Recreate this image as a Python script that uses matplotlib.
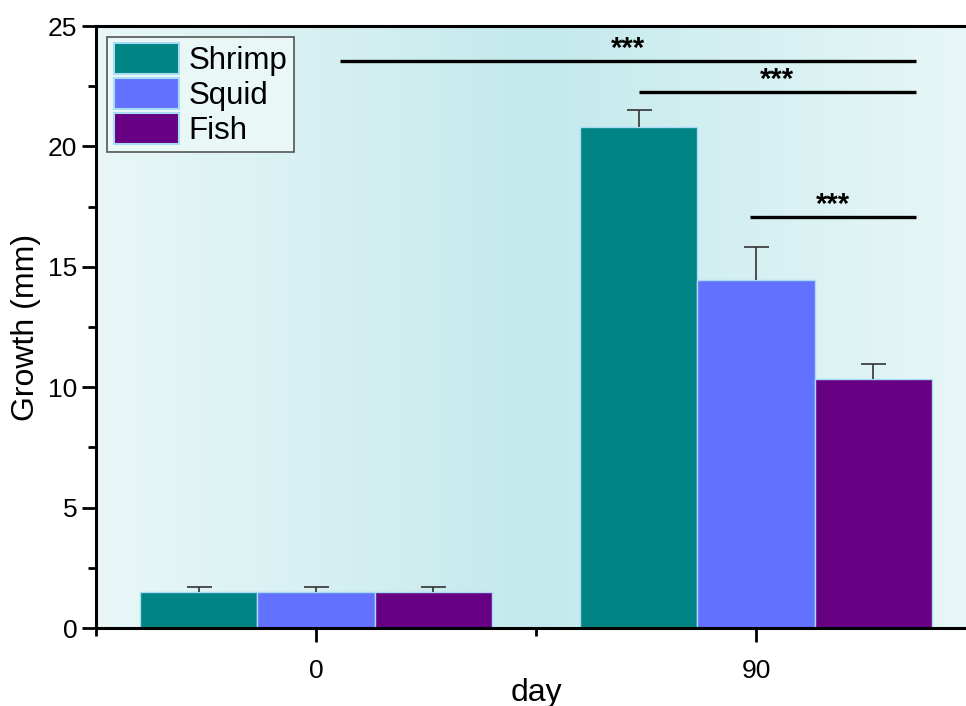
import numpy as np
import matplotlib.pyplot as plt
from matplotlib.colors import LinearSegmentedColormap
from matplotlib.ticker import MultipleLocator

plt.rcParams['font.family'] = ['Liberation Sans', 'DejaVu Sans']

# data
days = ['0', '90']
groups = ['Shrimp', 'Squid', 'Fish']
means = {'Shrimp': [1.5, 20.8], 'Squid': [1.5, 14.45], 'Fish': [1.5, 10.35]}
errs = {'Shrimp': [0.2, 0.7], 'Squid': [0.2, 1.37], 'Fish': [0.2, 0.62]}
colors = {'Shrimp': '#008484', 'Squid': '#6272ff', 'Fish': '#680084'}

# significance brackets (x start, x end, y)
sig_x0 = [0.055, 0.733, 0.986]
sig_x1 = [1.364, 1.364, 1.364]
sig_y = [23.55, 22.26, 17.07]
sig_txt = ['***', '***', '***']

fig = plt.figure(figsize=(9.66, 7.06), dpi=100)
ax = fig.add_axes([96 / 966, 1 - 628 / 706, 880 / 966, 602 / 706])

x = np.arange(len(days))
w = 0.8 / 3

# background gradient
bg = LinearSegmentedColormap.from_list('bg', ['#e9f7f7', '#c4e9ec', '#e8f7f7'])
grad = np.linspace(0, 1, 256)[np.newaxis, :]
ax.imshow(grad, cmap=bg, aspect='auto', extent=[-0.5, 1.5, 0, 25],
          zorder=0, interpolation='bicubic')

for i, g in enumerate(groups):
    ax.bar(x + (i - 1) * w, means[g], w, color=colors[g], edgecolor='#a8dcf4',
           linewidth=1, label=g, zorder=2)
    eb = ax.errorbar(x + (i - 1) * w, means[g], yerr=[np.zeros(2), errs[g]], fmt='none',
                     ecolor='#333333', elinewidth=1.2, capsize=9, capthick=1.2, zorder=3)
    eb[1][0].set_visible(False)  # no cap at bar top

for x0, x1, y, t in zip(sig_x0, sig_x1, sig_y, sig_txt):
    ax.plot([x0, x1], [y, y], color='black', lw=2.4, solid_capstyle='butt', zorder=4)
    ax.text((x0 + x1) / 2, y - 0.1, t, ha='center', va='bottom', fontsize=21,
            fontweight='bold', zorder=4)

ax.set_xlim(-0.5, 1.5)
ax.set_ylim(0, 25)
ax.set_xticks(x)
ax.set_xticklabels(days)
ax.xaxis.set_minor_locator(MultipleLocator(0.5))
ax.yaxis.set_major_locator(MultipleLocator(5))
ax.yaxis.set_minor_locator(MultipleLocator(2.5))
ax.tick_params(which='major', length=10, width=2, labelsize=19, direction='out')
ax.tick_params(which='minor', length=6, width=2, direction='out')
ax.tick_params(axis='x', pad=12)
for s in ['left', 'bottom', 'top']:
    ax.spines[s].set_linewidth(2.2)
ax.spines['right'].set_visible(False)

ax.set_xlabel('day', fontsize=23)
ax.xaxis.set_label_coords((536 - 96) / 880, -0.083)
ax.set_ylabel('Growth (mm)', fontsize=23, labelpad=5)

leg = ax.legend(loc='upper left', bbox_to_anchor=(0.013, 0.982), fontsize=22.5,
                frameon=True, fancybox=False, edgecolor='#555555', framealpha=1,
                facecolor='#e9f7f7', handlelength=2.1, handleheight=1.15,
                labelspacing=0.06, borderpad=0.2, handletextpad=0.3, borderaxespad=0)
leg.get_frame().set_linewidth(1.2)
for p in leg.get_patches():
    p.set_edgecolor('#a8dcf4')
    p.set_linewidth(1.5)

fig.savefig('out.png', dpi=100)
